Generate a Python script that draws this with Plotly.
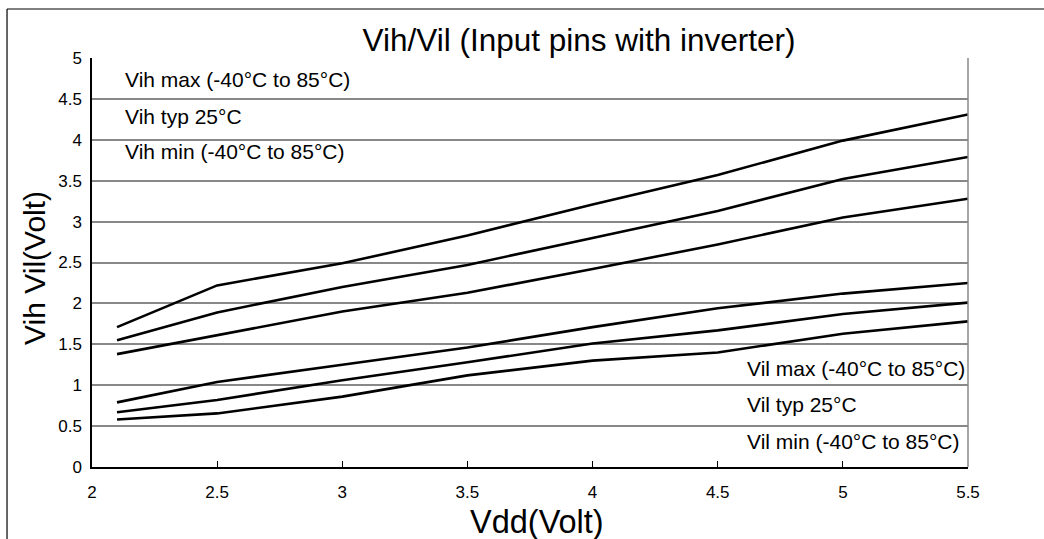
import plotly.graph_objects as go

# Supply voltage sweep (V)
vdd = [2.1, 2.5, 3.0, 3.5, 4.0, 4.5, 5.0, 5.5]

# Input threshold curves (V)
vih_max = [1.71, 2.22, 2.49, 2.83, 3.21, 3.57, 3.99, 4.31]
vih_typ = [1.55, 1.89, 2.20, 2.47, 2.80, 3.13, 3.52, 3.79]
vih_min = [1.38, 1.61, 1.90, 2.13, 2.42, 2.72, 3.05, 3.28]
vil_max = [0.79, 1.04, 1.25, 1.46, 1.71, 1.94, 2.12, 2.25]
vil_typ = [0.67, 0.82, 1.06, 1.28, 1.51, 1.67, 1.87, 2.01]
vil_min = [0.58, 0.655, 0.86, 1.12, 1.30, 1.40, 1.63, 1.78]

series = [vih_max, vih_typ, vih_min, vil_max, vil_typ, vil_min]

vih_labels = ["Vih max (-40°C to 85°C)", "Vih typ 25°C", "Vih min (-40°C to 85°C)"]
vil_labels = ["Vil max (-40°C to 85°C)", "Vil typ 25°C", "Vil min (-40°C to 85°C)"]

# Levels drawn as dark separator lines instead of grey grid lines
separator_levels = [4.5, 0.5]

FONT = "Liberation Sans, Arial, sans-serif"

fig = go.Figure()
for ys in series:
    fig.add_trace(go.Scatter(
        x=vdd, y=ys, mode="lines",
        line=dict(color="black", width=2.6),
        showlegend=False, hoverinfo="skip",
    ))

# Label positions (paper coordinates)
vih_y = [0.948, 0.858, 0.771]
vil_y = [0.242, 0.154, 0.063]

annotations = []
for txt, y in zip(vih_labels, vih_y):
    annotations.append(dict(text=txt, x=0.0354, y=y, xref="paper", yref="paper",
                            xanchor="left", yanchor="middle", showarrow=False,
                            font=dict(family=FONT, size=21, color="black")))
for txt, y in zip(vil_labels, vil_y):
    annotations.append(dict(text=txt, x=0.746, y=y, xref="paper", yref="paper",
                            xanchor="left", yanchor="middle", showarrow=False,
                            font=dict(family=FONT, size=21, color="black")))

# Axis titles
annotations.append(dict(text="Vdd(Volt)", x=0.508, y=-0.134, xref="paper", yref="paper",
                        xanchor="center", yanchor="middle", showarrow=False,
                        font=dict(family=FONT, size=32.5, color="black")))
annotations.append(dict(text="Vih Vil(Volt)", x=-0.065, y=0.487, xref="paper", yref="paper",
                        xanchor="center", yanchor="middle", showarrow=False, textangle=-90,
                        font=dict(family=FONT, size=30, color="black")))

shapes = []
for lvl in separator_levels:
    shapes.append(dict(type="line", xref="paper", yref="y", x0=0, x1=1, y0=lvl, y1=lvl,
                       line=dict(color="black", width=1), layer="below"))
# right border of the plot area
shapes.append(dict(type="line", xref="paper", yref="paper", x0=1, x1=1, y0=0, y1=1,
                   line=dict(color="#888888", width=1.5)))
# outer frame (top and left edges)
shapes.append(dict(type="line", xref="paper", yref="paper", x0=-0.097, x1=1.2, y0=1.1198, y1=1.1198,
                   line=dict(color="black", width=1.2)))
shapes.append(dict(type="line", xref="paper", yref="paper", x0=-0.097, x1=-0.097, y0=-0.3, y1=1.1198,
                   line=dict(color="black", width=1.2)))

fig.update_layout(
    width=1044, height=539,
    margin=dict(l=92, r=76, t=58, b=72),
    paper_bgcolor="white", plot_bgcolor="white",
    font=dict(family=FONT, color="black"),
    title=dict(text="Vih/Vil (Input pins with inverter)", x=0.556, xref="paper", xanchor="center",
               y=0.925, yref="container", yanchor="middle",
               font=dict(family=FONT, size=31.5, color="black")),
    annotations=annotations,
    shapes=shapes,
    xaxis=dict(range=[2, 5.5], dtick=0.5, tick0=2, showgrid=False, zeroline=False,
               showline=True, linecolor="black", linewidth=1.5,
               ticks="inside", ticklen=6, tickcolor="black", tickwidth=1,
               tickfont=dict(family=FONT, size=17, color="black"),
               ticklabelstandoff=9, fixedrange=True),
    yaxis=dict(range=[0, 5], dtick=0.5, tick0=0, showgrid=True, gridcolor="#888888", gridwidth=1.5,
               zeroline=False, showline=True, linecolor="black", linewidth=1.5,
               ticks="", tickfont=dict(family=FONT, size=17, color="black"),
               ticklabelstandoff=5, fixedrange=True),
)

fig.write_html("out.html")
